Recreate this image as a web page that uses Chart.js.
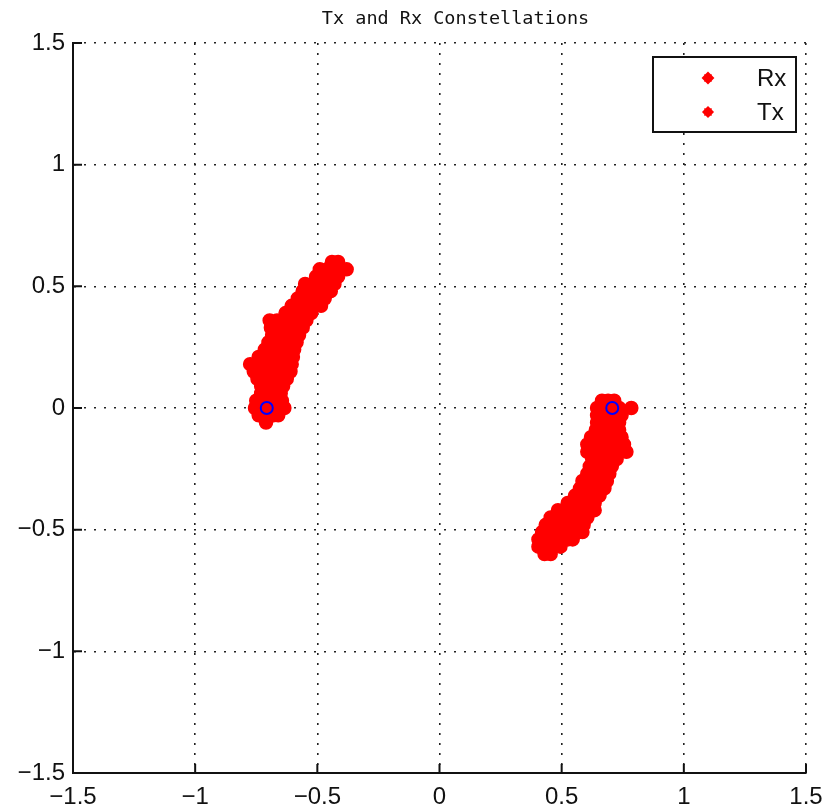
<!DOCTYPE html>
<html>
<head>
<meta charset="utf-8">
<script src="https://cdn.jsdelivr.net/npm/chart.js@4/dist/chart.umd.min.js"></script>
<style>
html,body{margin:0;padding:0;background:#fff;}
#wrap{width:823px;height:810px;}
</style>
</head>
<body>
<div id="wrap"><canvas id="c" width="823" height="810"></canvas></div>
<script>
const chartTitle = 'Tx and Rx Constellations';
const tickValues = [-1.5, -1, -0.5, 0, 0.5, 1, 1.5];
const tickLabels = ['\u22121.5', '\u22121', '\u22120.5', '0', '0.5', '1', '1.5'];
const seriesNames = ['Rx', 'Tx'];

// Received symbols, cluster near -0.707
const rxCluster1 = [
  [-0.71,-0.06],
  [-0.74,-0.03],[-0.71,-0.03],[-0.68,-0.03],[-0.66,-0.03],
  [-0.755,0.00],[-0.725,0.00],[-0.695,0.00],[-0.665,0.00],[-0.635,0.00],
  [-0.75,0.03],[-0.72,0.03],[-0.69,0.03],[-0.66,0.03],[-0.645,0.03],
  [-0.73,0.06],[-0.70,0.06],[-0.67,0.06],[-0.65,0.06],
  [-0.73,0.09],[-0.70,0.09],[-0.67,0.09],[-0.64,0.09],
  [-0.745,0.12],[-0.715,0.12],[-0.685,0.12],[-0.655,0.12],[-0.625,0.12],
  [-0.76,0.15],[-0.73,0.15],[-0.70,0.15],[-0.67,0.15],[-0.64,0.15],[-0.61,0.15],
  [-0.775,0.18],[-0.745,0.18],[-0.715,0.18],[-0.685,0.18],[-0.655,0.18],[-0.625,0.18],[-0.605,0.18],
  [-0.74,0.21],[-0.71,0.21],[-0.68,0.21],[-0.65,0.21],[-0.62,0.21],[-0.60,0.21],
  [-0.715,0.24],[-0.685,0.24],[-0.655,0.24],[-0.625,0.24],[-0.595,0.24],
  [-0.70,0.27],[-0.67,0.27],[-0.64,0.27],[-0.61,0.27],[-0.585,0.27],
  [-0.685,0.30],[-0.655,0.30],[-0.625,0.30],[-0.595,0.30],[-0.575,0.30],
  [-0.69,0.33],[-0.66,0.33],[-0.63,0.33],[-0.60,0.33],[-0.56,0.33],
  [-0.695,0.36],[-0.665,0.36],[-0.635,0.36],[-0.605,0.36],[-0.575,0.36],[-0.545,0.36],
  [-0.63,0.39],[-0.60,0.39],[-0.57,0.39],[-0.54,0.39],[-0.525,0.39],
  [-0.605,0.42],[-0.575,0.42],[-0.545,0.42],[-0.515,0.42],[-0.485,0.42],
  [-0.58,0.45],[-0.55,0.45],[-0.52,0.45],[-0.49,0.45],[-0.47,0.45],
  [-0.56,0.48],[-0.53,0.48],[-0.50,0.48],[-0.47,0.48],[-0.445,0.48],
  [-0.55,0.51],[-0.52,0.51],[-0.49,0.51],[-0.46,0.51],[-0.43,0.51],
  [-0.505,0.54],[-0.475,0.54],[-0.445,0.54],[-0.415,0.54],
  [-0.49,0.57],[-0.46,0.57],[-0.43,0.57],[-0.40,0.57],[-0.38,0.57],
  [-0.44,0.60],[-0.415,0.60]
];

// Received symbols, cluster near +0.707
const rxCluster2 = [
  [0.665,0.03],[0.69,0.03],[0.715,0.03],
  [0.645,0.00],[0.675,0.00],[0.705,0.00],[0.735,0.00],[0.785,0.00],
  [0.645,-0.03],[0.675,-0.03],[0.705,-0.03],[0.735,-0.03],[0.745,-0.03],
  [0.645,-0.06],[0.675,-0.06],[0.705,-0.06],[0.735,-0.06],
  [0.64,-0.09],[0.67,-0.09],[0.70,-0.09],[0.735,-0.09],
  [0.62,-0.12],[0.65,-0.12],[0.68,-0.12],[0.71,-0.12],[0.745,-0.12],
  [0.605,-0.15],[0.635,-0.15],[0.665,-0.15],[0.695,-0.15],[0.725,-0.15],[0.755,-0.15],
  [0.605,-0.18],[0.635,-0.18],[0.665,-0.18],[0.695,-0.18],[0.725,-0.18],[0.765,-0.18],
  [0.625,-0.21],[0.655,-0.21],[0.685,-0.21],[0.725,-0.21],
  [0.615,-0.24],[0.645,-0.24],[0.675,-0.24],[0.705,-0.24],
  [0.605,-0.27],[0.635,-0.27],[0.665,-0.27],[0.695,-0.27],
  [0.585,-0.30],[0.615,-0.30],[0.645,-0.30],[0.685,-0.30],
  [0.575,-0.33],[0.605,-0.33],[0.635,-0.33],[0.675,-0.33],
  [0.555,-0.36],[0.585,-0.36],[0.615,-0.36],[0.655,-0.36],
  [0.525,-0.39],[0.555,-0.39],[0.585,-0.39],[0.615,-0.39],[0.635,-0.39],
  [0.485,-0.42],[0.515,-0.42],[0.545,-0.42],[0.575,-0.42],[0.605,-0.42],[0.635,-0.42],
  [0.455,-0.45],[0.485,-0.45],[0.515,-0.45],[0.545,-0.45],[0.575,-0.45],[0.605,-0.45],
  [0.435,-0.48],[0.465,-0.48],[0.495,-0.48],[0.525,-0.48],[0.555,-0.48],[0.59,-0.48],
  [0.42,-0.51],[0.45,-0.51],[0.48,-0.51],[0.51,-0.51],[0.54,-0.51],[0.57,-0.51],[0.585,-0.51],
  [0.405,-0.54],[0.435,-0.54],[0.465,-0.54],[0.495,-0.54],[0.525,-0.54],[0.545,-0.54],
  [0.405,-0.57],[0.435,-0.57],[0.465,-0.57],[0.495,-0.57],
  [0.43,-0.60],[0.455,-0.60]
];

// Transmitted symbols
const txPoints = [[-0.707, 0], [0.707, 0]];

const toXY = arr => arr.map(p => ({x: p[0], y: p[1]}));
const rxData = toXY(rxCluster1.concat(rxCluster2));
const txData = toXY(txPoints);

const tickFont = {family: '"Liberation Sans", Arial, sans-serif', size: 24};

const tickMarks = {
  id: 'tickMarks',
  afterDraw(chart) {
    const {ctx, chartArea: a, scales: {x, y}} = chart;
    ctx.save();
    ctx.strokeStyle = '#111';
    ctx.lineWidth = 2;
    ctx.beginPath();
    tickValues.forEach(v => {
      const px = x.getPixelForValue(v);
      ctx.moveTo(px, a.bottom); ctx.lineTo(px, a.bottom - 9);
      const py = y.getPixelForValue(v);
      ctx.moveTo(a.left, py); ctx.lineTo(a.left + 9, py);
    });
    ctx.stroke();
    ctx.restore();
  }
};

const titleText = {
  id: 'titleText',
  afterDraw(chart) {
    const {ctx, chartArea: a} = chart;
    ctx.save();
    ctx.fillStyle = '#111';
    ctx.font = '18.5px "DejaVu Sans Mono", "Liberation Mono", monospace';
    ctx.textAlign = 'center';
    ctx.textBaseline = 'middle';
    ctx.fillText(chartTitle, (a.left + a.right) / 2 + 16, 19);
    ctx.restore();
  }
};

const boxLegend = {
  id: 'boxLegend',
  afterDraw(chart) {
    const {ctx, chartArea: a} = chart;
    const w = 143, h = 75;
    const left = a.right - 10 - w, top = a.top + 14;
    ctx.save();
    ctx.fillStyle = '#fff';
    ctx.fillRect(left, top, w, h);
    ctx.strokeStyle = '#111';
    ctx.lineWidth = 2;
    ctx.strokeRect(left, top, w, h);
    ctx.font = '24px "Liberation Sans", Arial, sans-serif';
    ctx.textBaseline = 'middle';
    ctx.textAlign = 'left';
    const rows = [top + 21, top + 55];
    seriesNames.forEach((name, i) => {
      const cy = rows[i];
      const cx = left + 55;
      ctx.fillStyle = '#ff0000';
      ctx.strokeStyle = '#ff0000';
      Chart.helpers.drawPoint(ctx, {pointStyle: 'rectRot', radius: 5, borderWidth: 1}, cx, cy);
      ctx.fill();
      ctx.lineWidth = 1.5;
      Chart.helpers.drawPoint(ctx, {pointStyle: 'star', radius: 5, borderWidth: 1.5}, cx, cy);
      ctx.fillStyle = '#111';
      ctx.fillText(name, left + 104, cy + 1);
    });
    ctx.restore();
  }
};

function axisCfg(pos) {
  return {
    type: 'linear',
    position: pos,
    min: -1.5, max: 1.5,
    afterBuildTicks(scale) { scale.ticks = tickValues.map(v => ({value: v})); },
    ticks: {
      font: tickFont,
      color: '#111',
      padding: pos === 'left' ? 8 : 10,
      autoSkip: false,
      maxRotation: 0,
      callback: (v) => { const i = tickValues.indexOf(v); return i >= 0 ? tickLabels[i] : ''; }
    },
    grid: {
      color: '#222',
      lineWidth: 1.6,
      drawTicks: false
    },
    border: {display: true, color: '#111', width: 2, dash: [2, 8]},
    afterFit(scale) {
      if (pos === 'left') { scale.width = 73; }
      else { scale.height = 37; }
      scale.paddingLeft = 0; scale.paddingRight = 0;
      scale.paddingTop = 0; scale.paddingBottom = 0;
    }
  };
}

new Chart(document.getElementById('c'), {
  type: 'scatter',
  data: {
    datasets: [
      {
        label: seriesNames[0],
        data: rxData,
        order: 2,
        pointStyle: 'circle',
        pointRadius: 6.5,
        pointHoverRadius: 6.5,
        backgroundColor: '#ff0000',
        borderColor: '#ff0000',
        borderWidth: 1.5
      },
      {
        label: seriesNames[1],
        data: txData,
        order: 1,
        pointStyle: 'circle',
        pointRadius: 6,
        pointHoverRadius: 6,
        backgroundColor: 'rgba(0,0,0,0)',
        borderColor: '#0000ff',
        borderWidth: 2
      }
    ]
  },
  options: {
    responsive: false,
    animation: false,
    devicePixelRatio: 1,
    layout: {padding: {left: 0, right: 17, top: 43, bottom: 0}},
    plugins: {
      legend: {display: false},
      tooltip: {enabled: false},
      title: {display: false}
    },
    scales: {
      x: axisCfg('bottom'),
      y: axisCfg('left')
    }
  },
  plugins: [tickMarks, boxLegend, titleText]
});
</script>
</body>
</html>
